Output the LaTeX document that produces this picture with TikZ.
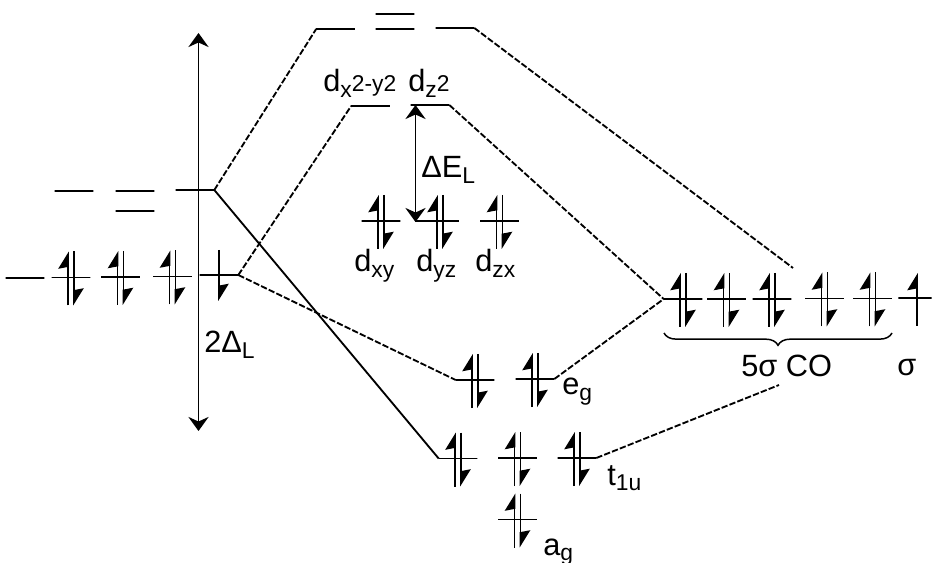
\documentclass[tikz,border=0pt]{standalone}
\usepackage{fontspec}
\setmainfont{Liberation Sans}
\usetikzlibrary{arrows.meta, decorations.pathreplacing}
\tikzset{
  level/.style={draw, minimum width=22pt, minimum height=0pt, inner sep=0pt, outer sep=0pt, line width=0.85pt},
  spinup/.style={line width=0.95pt, -{Stealth[harpoon,length=9pt,width=11pt,inset=1pt]}},
  spindown/.style={line width=0.95pt, -{Stealth[harpoon,length=9pt,width=11pt,inset=1pt]}},
  bond/.style={line width=1.05pt, dash pattern=on 3.6pt off 1.2pt},
  gap/.style={line width=1.1pt, {Stealth[length=8pt,width=11.5pt]}-{Stealth[length=8pt,width=11.5pt]}},
  lbl/.style={anchor=base west, inner sep=0pt, font=\fontsize{17.5}{20}\selectfont}
}
\newcommand{\lowtxt}[1]{\raisebox{-3pt}{\fontsize{13}{14}\selectfont #1}}
\newcommand{\hightxt}[1]{\raisebox{0.5pt}{\fontsize{13}{14}\selectfont #1}}
% level with a pair of spins
\newcommand{\pairlevel}[3]{
  \node[level] (#1) at (#2,#3) {};
  \draw[spinup] ([shift={(-3,28)}]#1.center) -- ([shift={(-3,-26)}]#1.center);
  \draw[spindown] ([shift={(3,-26)}]#1.center) -- ([shift={(3,28)}]#1.center);
}
\begin{document}
\begin{tikzpicture}[x=0.02cm, y=-0.02cm]
  \useasboundingbox (0,0) rectangle (932,563);

  % metal levels, left
  \node[level] (egA) at (74,191) {};
  \node[level] (egB) at (135,191) {};
  \node[level] (egC) at (135,211) {};
  \node[level] (egD) at (195,190) {};
  \node[level] (lowE) at (25,278) {};
  \pairlevel{tA}{71}{277.5}
  \pairlevel{tB}{120.5}{277}
  \pairlevel{tC}{172.5}{276.5}
  \node[level] (tD) at (219,275) {};
  \draw[spindown] (219,250) -- (219,301);

  % upper levels
  \node[level] (upA) at (335.5,29) {};
  \node[level] (upB) at (395,14) {};
  \node[level] (upC) at (395,29) {};
  \node[level] (upD) at (455,28) {};
  \node[level] (dxy) at (370.5,106) {};
  \node[level] (dzz) at (430,105) {};

  % t2g levels
  \pairlevel{lxy}{381}{221}
  \node[level, minimum width=25pt] (lyz) at (437,221) {};
  \draw[spinup] (437,249) -- (437,195);
  \draw[spindown] (443,195) -- (443,249);
  \pairlevel{lzx}{499.5}{221}

  % CO levels, right
  \pairlevel{coA}{683}{299}
  \pairlevel{coB}{726.5}{299}
  \pairlevel{coC}{772}{299}
  \pairlevel{coD}{824.5}{298.5}
  \pairlevel{coE}{872.5}{298.5}
  \node[level, minimum width=19pt] (coF) at (915,298) {};
  \draw[spinup] (917,326) -- (917,273);

  % bonding levels
  \pairlevel{bgA}{475}{380}
  \pairlevel{bgB}{535}{379}
  \pairlevel{buA}{458}{458.5}
  \pairlevel{buB}{517.5}{458}
  \pairlevel{buC}{577}{458}
  \pairlevel{bag}{517.5}{519.5}

  % free ends
  \coordinate (farA) at (793,268);
  \coordinate (farB) at (779,385);

  % connectors
  \draw[bond] (egD.east) -- (upA.west);
  \draw[line width=1.05pt] (egD.east) -- (buA.west);
  \draw[bond] (upD.east) -- (farA);
  \draw[bond] (tD.east) -- (dxy.west);
  \draw[bond] (tD.east) -- (bgA.west);
  \draw[bond] (dzz.east) -- (coA.west);
  \draw[bond] (bgB.east) -- (coA.west);
  \draw[bond] (buC.east) -- (farB);

  % gaps
  \coordinate (gapT) at (198.5,33);
  \coordinate (gapB) at (198.5,431);
  \draw[gap] (gapT) -- (gapB);
  \coordinate (elT) at (415.5,105);
  \coordinate (elB) at (415.5,222);
  \draw[gap] (elT) -- (elB);

  % brace
  \coordinate (brL) at (664,333);
  \coordinate (brR) at (892,333);
  \draw[line width=0.85pt, decorate, decoration={brace, mirror, amplitude=7pt}] (brL) -- (brR);

  % labels
  \node[lbl] (lblgap) at (204,353) {2Δ\lowtxt{L}};
  \node[lbl] (lblel) at (421,178) {ΔE\lowtxt{L}};
  \node[lbl] (lbldxy) at (323,92) {d\lowtxt{x}\hightxt{2-y2}};
  \node[lbl] (lbldzz) at (408,92) {d\lowtxt{z}\hightxt{2}};
  \node[lbl] (lblxy) at (354,272) {d\lowtxt{xy}};
  \node[lbl] (lblyz) at (416,272) {d\lowtxt{yz}};
  \node[lbl] (lblzx) at (475,272) {d\lowtxt{zx}};
  \node[lbl] (lblco) at (741,377) {5σ CO};
  \node[lbl] (lblsig) at (897,376) {σ};
  \node[lbl] (lbleg) at (562,395) {e\lowtxt{g}};
  \node[lbl] (lbltu) at (607,485) {t\lowtxt{1u}};
  \node[lbl] (lblag) at (543,555) {a\lowtxt{g}};
\end{tikzpicture}
\end{document}
